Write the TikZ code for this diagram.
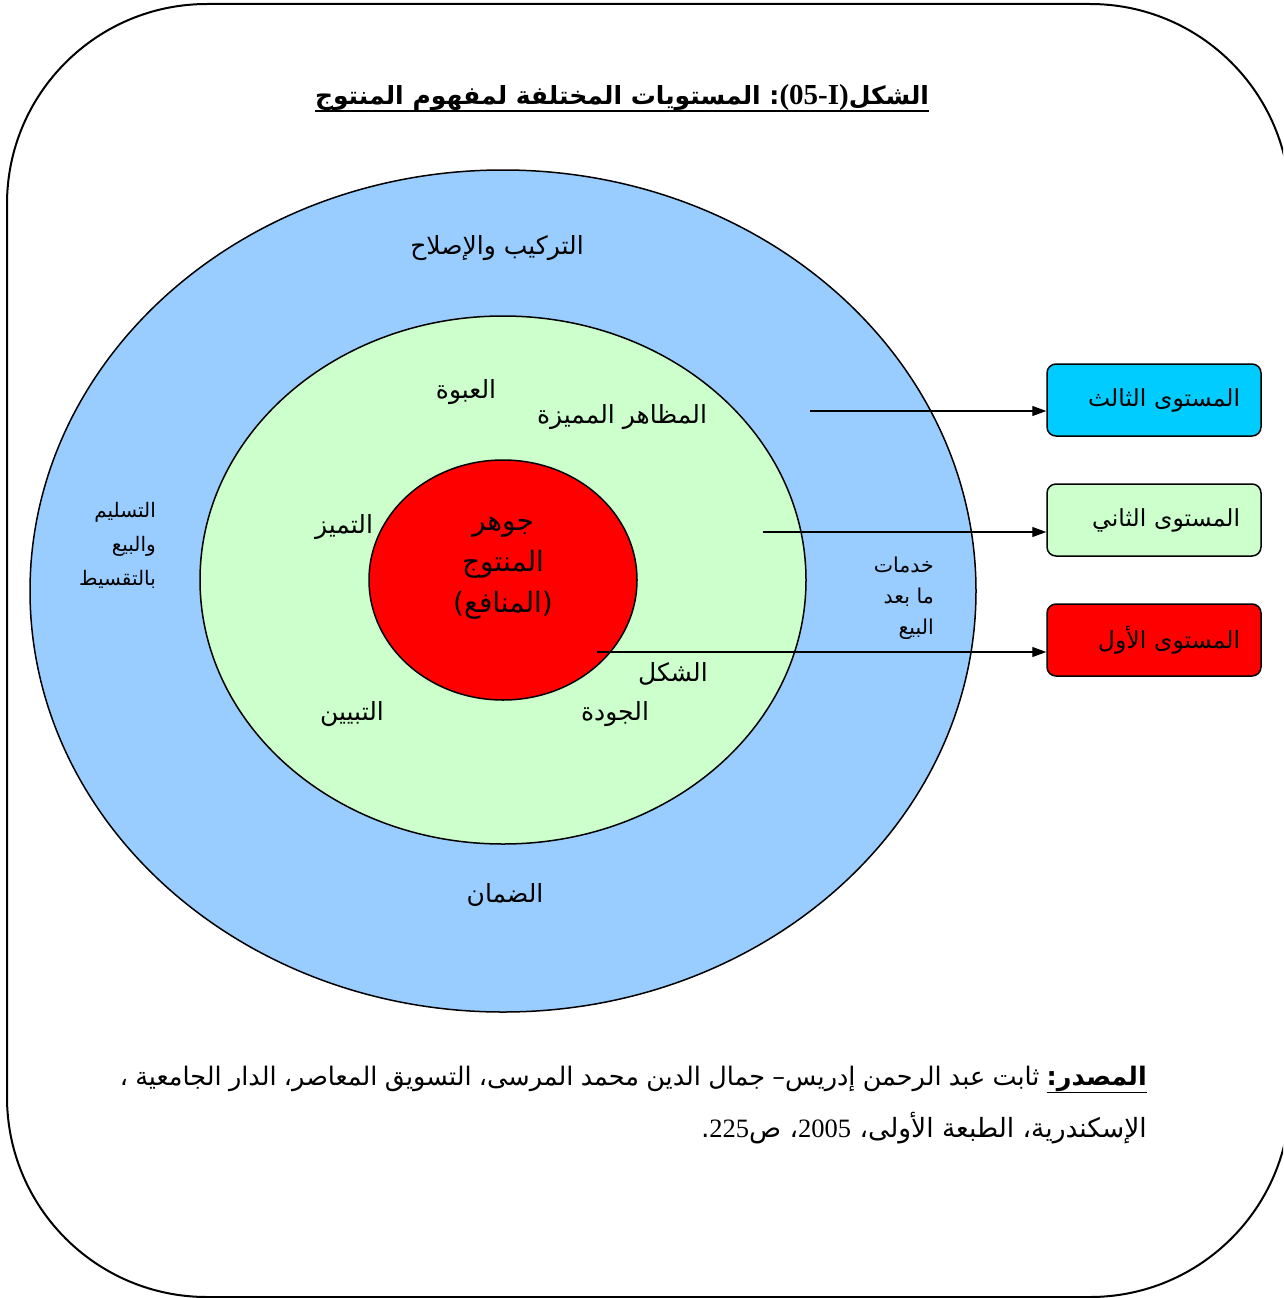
\documentclass[tikz,border=0pt]{standalone}
\usepackage{fontspec}
\usetikzlibrary{arrows.meta}
\TeXXeTstate=1
\newfontfamily\arabicfont[Script=Arabic]{DejaVu Sans}
\newfontfamily\latinserif{Liberation Serif}
\newcommand{\artext}[1]{{\arabicfont\beginR #1\endR}}

\definecolor{ringblue}{RGB}{153,204,255}
\definecolor{ringgreen}{RGB}{204,255,204}
\definecolor{corered}{RGB}{255,0,0}
\definecolor{levelcyan}{RGB}{0,204,255}

\tikzset{
  ring/.style={draw=black, line width=1.5pt},
  label/.style={inner sep=0pt, font=\fontsize{25}{30}\selectfont},
  levelbox/.style={draw=black, line width=1.5pt, rounded corners=9pt,
    minimum width=214pt, minimum height=72pt, text width=172pt,
    inner xsep=21pt, align=right, font=\fontsize{23.5}{28}\selectfont},
  pointer/.style={line width=1.2pt, -{Triangle[length=14pt,width=10pt]}}
}

\begin{document}
\begin{tikzpicture}[x=1pt,y=-1pt]
  \useasboundingbox (0,0) rectangle (1283,1298);
  \fill[white] (0,0) rectangle (1283,1298);
  \begin{scope}
    \clip (0,0) rectangle (1283,1298);
    \draw[line width=2pt, rounded corners=200pt] (7,4) rectangle (1290,1297);
  \end{scope}

  % title
  \node[anchor=base, inner sep=0pt, font=\fontsize{25}{30}\selectfont\bfseries] (title) at (622,104)
    {\arabicfont\beginR الشكل\beginL{\latinserif\fontsize{29}{30}\selectfont (05-I)}\endL: المستويات المختلفة لمفهوم المنتوج\endR};
  \draw[line width=2.5pt] ([yshift=-7pt]title.base west) -- ([yshift=-7pt]title.base east);

  % the three product levels
  \draw[ring, fill=ringblue] (503,591) ellipse [x radius=473, y radius=421];
  \draw[ring, fill=ringgreen] (503,580) ellipse [x radius=303, y radius=264];
  \draw[ring, fill=corered] (503,580) ellipse [x radius=134, y radius=120];

  % outer ring labels
  \node[label] (install) at (497,248) {\artext{التركيب والإصلاح}};
  \node[label, align=right, anchor=north east, font=\fontsize{20}{34}\selectfont] (credit) at (156,502)
    {\artext{التسليم}\\\artext{والبيع}\\\artext{بالتقسيط}};
  \node[label, align=right, anchor=north east, font=\fontsize{20.5}{31}\selectfont] (aftersale) at (934,557)
    {\artext{خدمات}\\\artext{ما بعد}\\\artext{البيع}};
  \node[label] (warranty) at (505,895) {\artext{الضمان}};

  % middle ring labels
  \node[label] (pack) at (466,392) {\artext{العبوة}};
  \node[label] (features) at (622,417) {\artext{المظاهر المميزة}};
  \node[label] (brand) at (344,527) {\artext{التميز}};
  \node[label] (shape) at (673,674) {\artext{الشكل}};
  \node[label] (style) at (352,714) {\artext{التبيين}};
  \node[label] (quality) at (615,714) {\artext{الجودة}};

  % core
  \node[label, align=center, font=\fontsize{28}{41}\selectfont] (core) at (503,568)
    {\artext{جوهر}\\\artext{المنتوج}\\\artext{(المنافع)}};

  % level boxes
  \node[levelbox, fill=levelcyan] (third) at (1154,400) {\artext{المستوى الثالث}};
  \node[levelbox, fill=ringgreen] (second) at (1154,520) {\artext{المستوى الثاني}};
  \node[levelbox, fill=corered] (first) at (1154,640) {\artext{المستوى الأول}};

  \coordinate (p3) at (810,411);
  \coordinate (p2) at (763,532);
  \coordinate (p1) at (597,652);
  \draw[pointer] (p3) -- (p3 -| third.west);
  \draw[pointer] (p2) -- (p2 -| second.west);
  \draw[pointer] (p1) -- (p1 -| first.west);

  % source
  \node[anchor=base east, inner sep=0pt, font=\fontsize{25.5}{30}\selectfont] (src1) at (1147,1085)
    {\hbox to 1027pt{\arabicfont\beginR\underline{\hbox{\beginR\bfseries المصدر:\endR}} ثابت عبد الرحمن إدريس– جمال الدين محمد المرسى، التسويق المعاصر، الدار الجامعية ،\endR}};
  \node[anchor=base east, inner sep=0pt, font=\fontsize{26.5}{30}\selectfont] (src2) at (1147,1137)
    {\arabicfont\beginR الإسكندرية، الطبعة الأولى، \beginL{\latinserif 2005}\endL، ص\beginL{\latinserif 225}\endL.\endR};
\end{tikzpicture}
\end{document}
